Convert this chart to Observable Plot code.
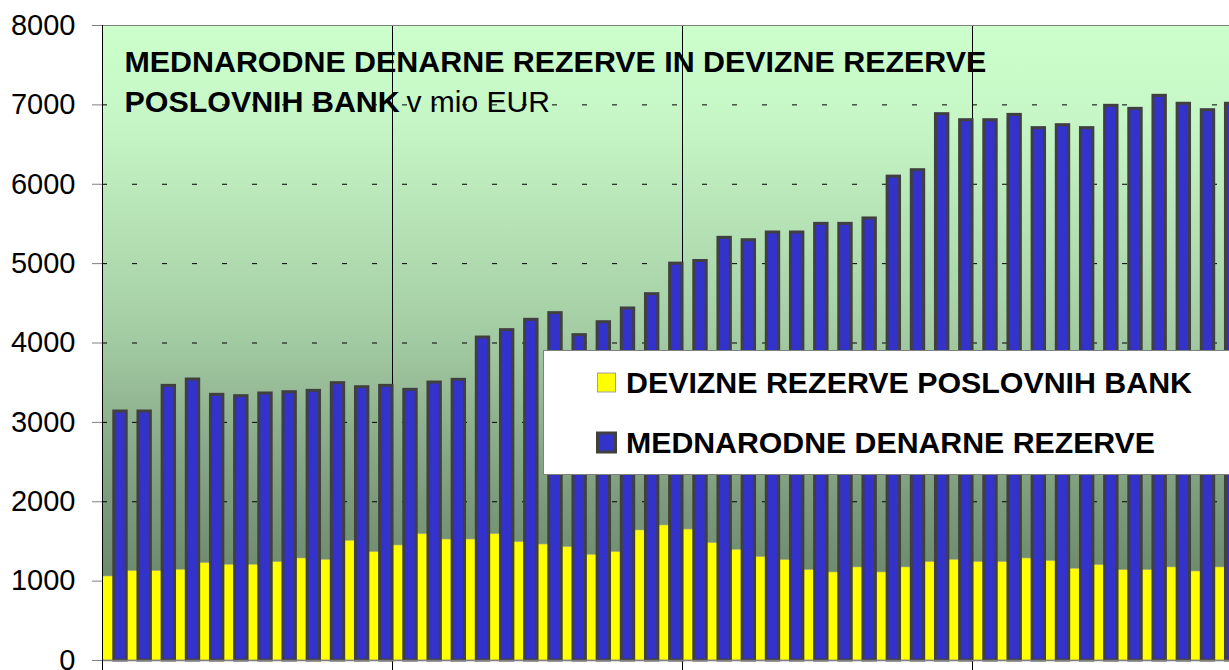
<!DOCTYPE html>
<html><head><meta charset="utf-8">
<script src="https://cdn.jsdelivr.net/npm/d3@7"></script>
<script src="https://cdn.jsdelivr.net/npm/@observablehq/plot@0.6"></script>
<style>
body{margin:0;overflow:hidden;background:#fff;font-family:"Liberation Sans",Arial,sans-serif}
#wrap{position:relative;width:1229px;height:670px;overflow:hidden}
#legend{position:absolute;left:0;top:0}
</style></head><body><div id="wrap"></div>
<script>
// MEDNARODNE DENARNE REZERVE (mio EUR), monthly
const mednarodne = [3137,3137,3460,3540,3347,3330,3364,3380,3397,3494,3443,3460,
  3410,3502,3536,4069,4162,4292,4376,4099,4262,4435,4615,5000,
  5033,5325,5295,5392,5392,5501,5501,5569,6096,6177,6883,6807,
  6807,6874,6707,6744,6707,6988,6950,7114,7014,6933,7014];
// DEVIZNE REZERVE POSLOVNIH BANK (mio EUR)
const devizne = [1058,1125,1125,1142,1226,1205,1205,1239,1285,1268,1508,1365,
  1449,1591,1524,1524,1591,1490,1461,1428,1331,1365,1638,1701,
  1650,1478,1394,1302,1264,1138,1109,1172,1109,1172,1239,1268,
  1239,1239,1285,1251,1155,1201,1138,1138,1172,1121,1172];
const yTicks = [0,1000,2000,3000,4000,5000,6000,7000,8000];
const yearStarts = [0,12,24,36];
const seriesNames = ["DEVIZNE REZERVE POSLOVNIH BANK","MEDNARODNE DENARNE REZERVE"];
const seriesColors = ["#FFFF00","#3333CC"];
const titleLine1 = "MEDNARODNE DENARNE REZERVE IN DEVIZNE REZERVE";
const titleLine2Bold = "POSLOVNIH BANK";
const titleLine2Rest = "v mio EUR";

const data = mednarodne.map((m,i)=>({i, m, d: devizne[i]}));
const W = 1229, H = 670, ML = 102, MT = 25, MB = 10;
const step = 290/12;
const xMax = (W - ML)/step;

const gradient = () => {
  const defs = d3.create("svg:defs");
  const g = defs.append("linearGradient").attr("id","bg")
    .attr("x1",0).attr("y1",0).attr("x2",0).attr("y2",1);
  [[0,"#CCFFCC"],[0.15,"#C6F6C6"],[0.35,"#B2DEB2"],[0.5,"#A2CAA2"],
   [0.62,"#8FB28F"],[0.75,"#7C9B7C"],[0.88,"#6C886C"],[1,"#5F7A5F"]]
    .forEach(([o,c])=>g.append("stop").attr("offset",o).attr("stop-color",c));
  return defs.node();
};

const chart = Plot.plot({
  width: W, height: H,
  marginLeft: ML, marginRight: 0, marginTop: MT, marginBottom: MB,
  style: {fontFamily: "'Liberation Sans', Arial, sans-serif", background: "white", overflow: "hidden"},
  x: {type: "linear", domain: [0, xMax], axis: null},
  y: {domain: [0, 8000], axis: null},
  marks: [
    gradient,
    Plot.frame({fill: "url(#bg)", stroke: null}),
    Plot.ruleY(yTicks.filter(t => t > 0 && t < 8000), {stroke: "black", strokeWidth: 1, strokeDasharray: "5,25"}),
    Plot.ruleX(yearStarts.filter(t => t > 0), {stroke: "black", strokeWidth: 1, insetBottom: -MB}),
    Plot.text([titleLine1], {frameAnchor: "top-left", text: d => d, dx: 22, dy: 46, lineAnchor: "bottom", textAnchor: "start", fontSize: 30.4, fontWeight: "bold", fill: "black"}),
    Plot.text([titleLine2Bold], {frameAnchor: "top-left", text: d => d, dx: 22, dy: 86, lineAnchor: "bottom", textAnchor: "start", fontSize: 30.4, fontWeight: "bold", fill: "black"}),
    Plot.text([titleLine2Rest], {frameAnchor: "top-left", text: d => d, dx: 304, dy: 86, lineAnchor: "bottom", textAnchor: "start", fontSize: 30, fill: "black"}),
    Plot.rect(data, {x1: d => d.i + 0.03, x2: d => d.i + 0.5, y1: 0, y2: "d", fill: seriesColors[0], stroke: "#B0B080", strokeWidth: 0.6}),
    Plot.rect(data, {x1: d => d.i + 0.488, x2: d => d.i + 1.001, y1: 0, y2: "m", fill: seriesColors[1], stroke: "#404040", strokeWidth: 3}),
    Plot.ruleY([8000], {stroke: "#808080", strokeWidth: 1}),
    Plot.ruleY([0], {stroke: "#808080", strokeWidth: 1.5}),
    Plot.ruleX([0], {stroke: "black", strokeWidth: 1, insetBottom: -MB}),
    Plot.axisY(yTicks, {tickSize: 10, tickPadding: 17, fontSize: 29, stroke: "#808080", fill: "black", tickFormat: d => String(d)})
  ]
});
const wrap = document.getElementById("wrap");
wrap.appendChild(chart);

// Legend overlay
const leg = d3.select(wrap).append("svg").attr("id","legend")
  .attr("width", W).attr("height", H)
  .style("font-family","'Liberation Sans', Arial, sans-serif");
leg.append("rect").attr("x",543.5).attr("y",350.5).attr("width",720).attr("height",124)
  .attr("fill","white").attr("stroke","#808080").attr("stroke-width",1);
const rows = [
  {name: seriesNames[0], color: seriesColors[0], stroke: "#A0A0A0", sw: 1, y: 373, len: 566},
  {name: seriesNames[1], color: seriesColors[1], stroke: "#404040", sw: 3, y: 433, len: 529}
];
rows.forEach(r => {
  leg.append("rect").attr("x",597.5).attr("y",r.y).attr("width",18).attr("height",19)
    .attr("fill",r.color).attr("stroke",r.stroke).attr("stroke-width",r.sw);
  leg.append("text").attr("x",626).attr("y",r.y+19.5)
    .attr("font-size",30).attr("font-weight","bold").attr("fill","black")
    .attr("textLength", r.len).attr("lengthAdjust","spacingAndGlyphs")
    .text(r.name);
});
</script></body></html>
